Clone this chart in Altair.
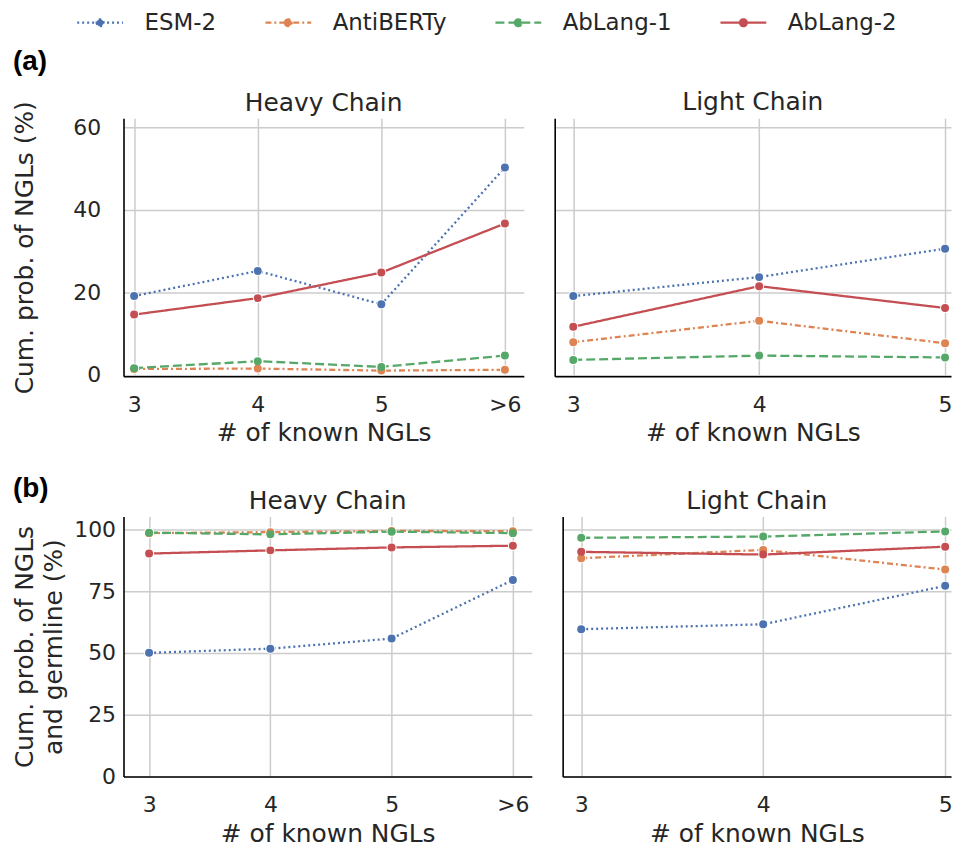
import json
import altair as alt
import pandas as pd

models = ["ESM-2", "AntiBERTy", "AbLang-1", "AbLang-2"]
colors = ["#4C72B0", "#DD8452", "#55A868", "#C44E52"]
dashes = [[2, 3], [6, 3, 2, 3], [9, 4], [1, 0]]

heavy_labels = ["3", "4", "5", ">6"]
light_labels = ["3", "4", "5"]

# (a) Cum. prob. of NGLs (%)
a_heavy_esm2 = [19.1, 25.2, 17.1, 50.3]
a_heavy_antiberty = [1.4, 1.5, 1.0, 1.2]
a_heavy_ablang1 = [1.6, 3.3, 1.9, 4.65]
a_heavy_ablang2 = [14.6, 18.6, 24.8, 36.7]

a_light_esm2 = [19.1, 23.7, 30.6]
a_light_antiberty = [7.9, 13.1, 7.65]
a_light_ablang1 = [3.6, 4.65, 4.2]
a_light_ablang2 = [11.65, 21.5, 16.2]

# (b) Cum. prob. of NGLs and germline (%)
b_heavy_esm2 = [50.0, 51.7, 55.8, 79.6]
b_heavy_antiberty = [98.6, 99.0, 99.5, 99.4]
b_heavy_ablang1 = [98.8, 98.1, 99.2, 98.6]
b_heavy_ablang2 = [90.3, 91.6, 92.8, 93.5]

b_light_esm2 = [59.6, 61.6, 77.2]
b_light_antiberty = [88.4, 91.8, 83.8]
b_light_ablang1 = [96.7, 97.2, 99.3]
b_light_ablang2 = [91.0, 89.9, 93.1]

TEXT = "#262626"
FONT = "DejaVu Sans"


def make_df(labels, series):
    rows = []
    for m, vals in zip(models, series):
        for i, v in enumerate(vals):
            rows.append({"model": m, "idx": i, "label": labels[i], "value": v})
    return pd.DataFrame(rows)


legend = alt.Legend(
    orient="none", legendX=-36.5, legendY=-109, direction="horizontal", columns=4,
    title=None, padding=0,
    symbolType="M-2,0H2M-0.3,0A0.3,0.3,0,1,0,0.3,0A0.3,0.3,0,1,0,-0.3,0Z",
    symbolSize=529, symbolStrokeWidth=2.3,
    labelFont=FONT, labelFontSize=23, labelColor=TEXT, labelOffset=31.5,
    columnPadding=44,
)


def panel(df, labels, xdom, width, height, ydom, yticks, title, title_offset,
          ytitle, show_y, ylabel_pad, ytitle_pad):
    base = alt.Chart(df)
    x = alt.X(
        "idx:Q",
        scale=alt.Scale(domain=xdom, nice=False, zero=False),
        axis=alt.Axis(
            values=list(range(len(labels))),
            labelExpr=json.dumps(labels) + "[datum.value]",
            title="# of known NGLs", labelPadding=18, titlePadding=6,
        ),
    )
    if show_y:
        yaxis = alt.Axis(values=yticks, title=ytitle, labelPadding=ylabel_pad,
                         titlePadding=ytitle_pad, titleLineHeight=29)
    else:
        yaxis = alt.Axis(values=yticks, title=None, labels=False)
    y = alt.Y("value:Q", scale=alt.Scale(domain=ydom, nice=False, zero=False), axis=yaxis)
    color = alt.Color("model:N", scale=alt.Scale(domain=models, range=colors), legend=legend)
    dash = alt.StrokeDash("model:N", scale=alt.Scale(domain=models, range=dashes), legend=legend)
    line = base.mark_line(strokeWidth=2.3).encode(x=x, y=y, color=color, strokeDash=dash)
    halo = base.mark_point(filled=True, color="white", size=100, opacity=1).encode(x=x, y=y)
    dots = base.mark_point(filled=True, size=64, opacity=1).encode(x=x, y=y, color=color)
    return alt.layer(line, halo, dots).properties(
        width=width, height=height,
        title=alt.TitleParams(title, fontSize=25, font=FONT, fontWeight="normal", color=TEXT,
                              frame="group", anchor="middle", offset=title_offset),
    )


ya_dom = [-0.36, 62.25]
yb_dom = [-0.2, 105.3]

pa_h = panel(make_df(heavy_labels, [a_heavy_esm2, a_heavy_antiberty, a_heavy_ablang1, a_heavy_ablang2]),
             heavy_labels, [-0.086, 3.153], 402, 259, ya_dom, [0, 20, 40, 60], "Heavy Chain", -15,
             "Cum. prob. of NGLs (%)", True, 23, 35)
pa_l = panel(make_df(light_labels, [a_light_esm2, a_light_antiberty, a_light_ablang1, a_light_ablang2]),
             light_labels, [-0.1, 2.032], 398, 259, ya_dom, [0, 20, 40, 60], "Light Chain", 3,
             None, False, 0, 0)
pb_h = panel(make_df(heavy_labels, [b_heavy_esm2, b_heavy_antiberty, b_heavy_ablang1, b_heavy_ablang2]),
             heavy_labels, [-0.211, 3.156], 410, 261, yb_dom, [0, 25, 50, 75, 100], "Heavy Chain", 3,
             ["Cum. prob. of NGLs", "and germline (%)"], True, 8, 7)
pb_l = panel(make_df(light_labels, [b_light_esm2, b_light_antiberty, b_light_ablang1, b_light_ablang2]),
             light_labels, [-0.102, 2.032], 390, 261, yb_dom, [0, 25, 50, 75, 100], "Light Chain", 3,
             None, False, 0, 0)

row_a = alt.hconcat(pa_h, pa_l, spacing=31).properties(
    title=alt.TitleParams("(a)", anchor="start", frame="bounds", font="Liberation Sans",
                          fontSize=28, fontWeight="bold", color="#000000", offset=15)
)
row_b = alt.hconcat(pb_h, pb_l, spacing=31).properties(
    title=alt.TitleParams("(b)", anchor="start", frame="bounds", font="Liberation Sans",
                          fontSize=28, fontWeight="bold", color="#000000", offset=-14)
)

chart = alt.vconcat(row_a, row_b, spacing=29).properties(
    padding={"left": 5, "top": 0, "right": 0, "bottom": 0}
).resolve_scale(
    x="independent", y="independent"
).configure_axis(
    labelFont=FONT, labelFontSize=22, labelColor=TEXT,
    titleFont=FONT, titleFontSize=25, titleFontWeight="normal", titleColor=TEXT,
    domainColor="#000000", domainWidth=1.6,
    gridColor="#cccccc", gridWidth=1.5, ticks=False,
).configure_view(stroke=None)

chart.save("out.html", embed_options={"renderer": "svg", "actions": False})
